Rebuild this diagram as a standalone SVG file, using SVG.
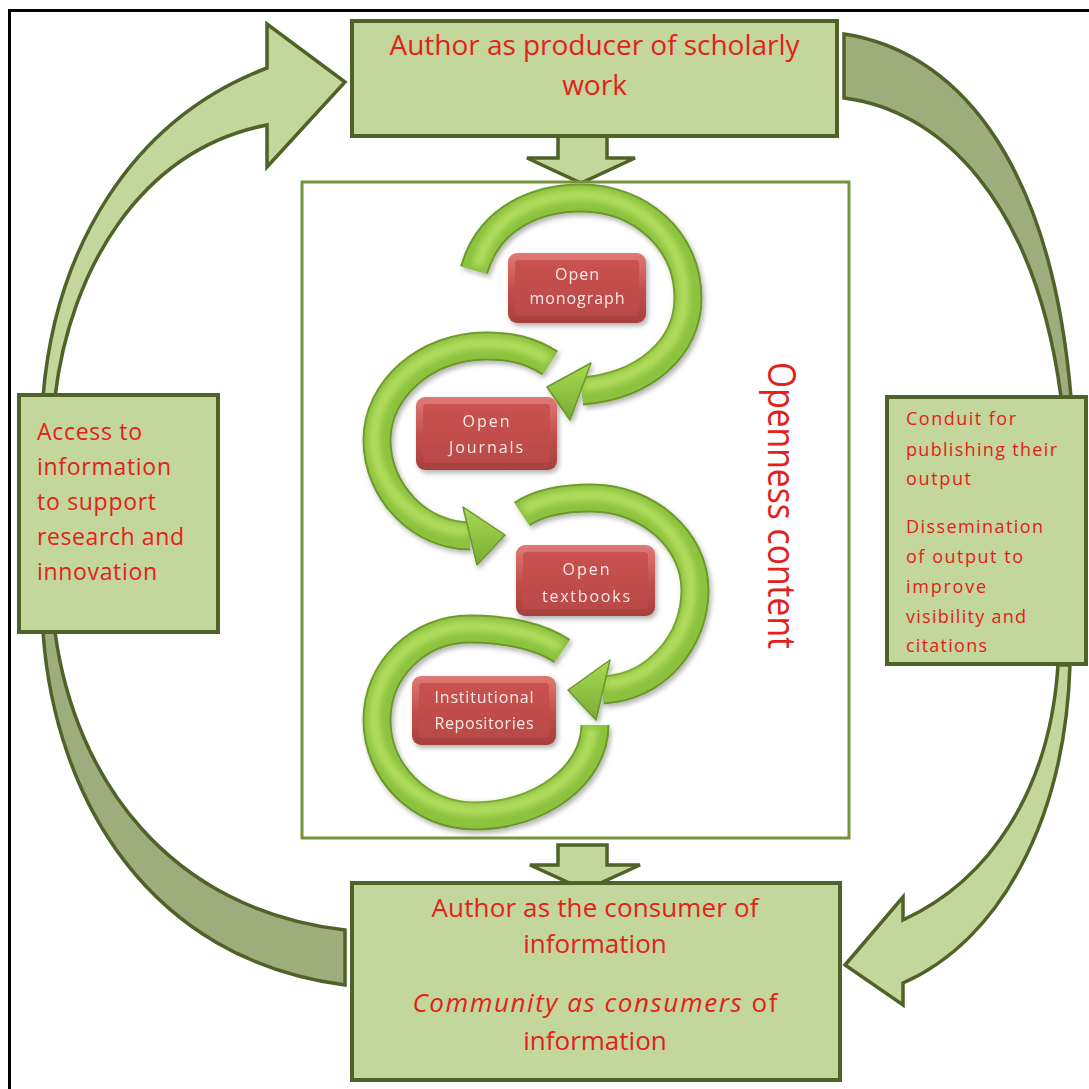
<svg xmlns="http://www.w3.org/2000/svg" width="1089" height="1089" viewBox="0 0 1089 1089">
  <defs>
    <style>
      .box { fill: #c3d69b; stroke: #4f6228; stroke-width: 4; }
      .frame { fill: #ffffff; stroke: #76923c; stroke-width: 3; }
      .big-light { fill: #c3d69b; stroke: #4f6228; stroke-width: 3.5; stroke-linejoin: miter; }
      .big-dark { fill: #9dad7b; stroke: #4f6228; stroke-width: 3.5; }
      .down { fill: #c3d69b; stroke: #4f6228; stroke-width: 3.5; }
      .lbl { fill: #e3211c; font-family: "Open Sans", "Liberation Sans", sans-serif; }
      .ring-edge { fill: none; stroke: #6c982a; stroke-width: 29; }
      .ring-body { fill: none; stroke: #8cc23e; stroke-width: 25; }
      .ring-hi { fill: none; stroke: #b2dd5e; stroke-width: 11; filter: url(#soft); }
      .head { fill: url(#headGrad); stroke: #6c982a; stroke-width: 1.5; stroke-linejoin: round; }
      .rb-out { fill: url(#redOut); }
      .rb-in { fill: url(#redIn); }
      .rb-txt { fill: #fbe9e7; font-family: "Open Sans", "Liberation Sans", sans-serif; font-size: 16px; text-anchor: middle; }
    </style>
    <filter id="soft" x="-20%" y="-20%" width="140%" height="140%">
      <feGaussianBlur stdDeviation="3"/>
    </filter>
    <filter id="shadow" x="-20%" y="-20%" width="140%" height="140%">
      <feDropShadow dx="2" dy="3" stdDeviation="2.5" flood-color="#000" flood-opacity="0.3"/>
    </filter>
    <linearGradient id="headGrad" x1="0" y1="0" x2="0" y2="1">
      <stop offset="0" stop-color="#a9d955"/>
      <stop offset="1" stop-color="#79ad31"/>
    </linearGradient>
    <linearGradient id="redOut" x1="0" y1="0" x2="0" y2="1">
      <stop offset="0" stop-color="#e07a76"/>
      <stop offset="0.5" stop-color="#c4504d"/>
      <stop offset="1" stop-color="#a7403d"/>
    </linearGradient>
    <linearGradient id="redIn" x1="0" y1="0" x2="0" y2="1">
      <stop offset="0" stop-color="#c9524f"/>
      <stop offset="1" stop-color="#b94a47"/>
    </linearGradient>
  </defs>

  <rect width="1089" height="1089" fill="#ffffff"/>
  <path d="M9.5,1089 V10.5 H1089" fill="none" stroke="#000" stroke-width="3"/>

  <g id="connectors">
    <!-- left arc, rising into the producer box -->
    <path class="big-light" d="M43,397 C55,250 130,120 267,68 L267,24 L345,82 L267,167 L267,125 C140,150 70,270 55,397 Z"/>
    <!-- right arc, from producer box down to the conduit box -->
    <path class="big-dark" d="M844,34 C950,50 1050,150 1071,397 L1061,397 C1035,200 940,110 844,98 Z"/>
    <!-- right arc, from conduit box into the consumer box -->
    <path class="big-light" d="M1070,665 C1065,820 1000,940 903,983 L903,1005 L845,965 L903,897 L903,920 C990,880 1050,790 1058,665 Z"/>
    <!-- left arc, from consumer box up to the access box -->
    <path class="big-dark" d="M43,632 C55,800 150,960 345,985 L345,930 C170,910 75,780 55,632 Z"/>
    <!-- short block arrows -->
    <path class="down" d="M558,136 V158 H527 L581,183 L635,158 H607 V136 Z"/>
    <path class="down" d="M558,845 V865 H530 L585,890 L640,865 H607 V845 Z"/>
  </g>

  <g id="node-openness">
    <rect class="frame" x="302" y="182" width="547" height="656"/>
    <g id="cycle" filter="url(#shadow)">
      <!-- ring around Institutional Repositories -->
      <g id="ring-d">
        <path class="ring-edge" d="M562,651 C540,636 505,629 470,629 C418,629 377,670 377,720 C377,772 420,816 475,816 C540,816 595,775 595,725"/>
        <path class="ring-body" d="M562,651 C540,636 505,629 470,629 C418,629 377,670 377,720 C377,772 420,816 475,816 C540,816 595,775 595,725"/>
        <path class="ring-hi" d="M560,648 C540,634 505,626 470,626 C418,626 374,668 374,718 C374,768 420,810 475,810 C540,810 590,772 592,728"/>
      </g>
      <!-- ring around Open textbooks -->
      <g id="ring-c">
        <path class="ring-edge" d="M522,514 C540,502 565,498 591,498 C648,498 695,540 695,590 C695,642 655,688 603,690"/>
        <path class="ring-body" d="M522,514 C540,502 565,498 591,498 C648,498 695,540 695,590 C695,642 655,688 603,690"/>
        <path class="ring-hi" d="M524,510 C540,499 565,495 591,495 C646,495 691,538 691,588 C691,636 655,680 605,684"/>
        <polygon class="head" points="568,690 610,660 596,720"/>
      </g>
      <!-- ring around Open Journals -->
      <g id="ring-b">
        <path class="ring-edge" d="M550,363 C530,350 510,346 486,346 C425,346 377,390 377,440 C377,492 420,536 470,536"/>
        <path class="ring-body" d="M550,363 C530,350 510,346 486,346 C425,346 377,390 377,440 C377,492 420,536 470,536"/>
        <path class="ring-hi" d="M548,360 C530,347 510,343 486,343 C425,343 374,388 374,438 C374,488 418,530 468,531"/>
        <polygon class="head" points="505,535 463,507 477,565"/>
      </g>
      <!-- ring around Open monograph -->
      <g id="ring-a">
        <path class="ring-edge" d="M474,270 C490,215 540,198 581,198 C640,198 688,240 688,298 C688,348 645,386 582,391"/>
        <path class="ring-body" d="M474,270 C490,215 540,198 581,198 C640,198 688,240 688,298 C688,348 645,386 582,391"/>
        <path class="ring-hi" d="M478,266 C492,212 540,195 581,195 C638,195 684,238 684,296 C684,344 643,380 584,386"/>
        <polygon class="head" points="547,387 591,363 570,420"/>
      </g>
    </g>

    <g id="node-monograph" filter="url(#shadow)">
      <rect class="rb-out" x="508" y="253" width="138" height="70" rx="9"/>
      <rect class="rb-in" x="515" y="260" width="124" height="56" rx="4"/>
      <text class="rb-txt" x="577" y="280" textLength="44">Open</text>
      <text class="rb-txt" x="577" y="304" textLength="95">monograph</text>
    </g>
    <g id="node-journals" filter="url(#shadow)">
      <rect class="rb-out" x="416" y="397" width="141" height="73" rx="9"/>
      <rect class="rb-in" x="423" y="404" width="127" height="59" rx="4"/>
      <text class="rb-txt" x="486" y="427" textLength="47">Open</text>
      <text class="rb-txt" x="486" y="453" textLength="74">Journals</text>
    </g>
    <g id="node-textbooks" filter="url(#shadow)">
      <rect class="rb-out" x="516" y="545" width="139" height="71" rx="9"/>
      <rect class="rb-in" x="523" y="552" width="125" height="57" rx="4"/>
      <text class="rb-txt" x="586" y="575" textLength="47">Open</text>
      <text class="rb-txt" x="586" y="602" textLength="88">textbooks</text>
    </g>
    <g id="node-repositories" filter="url(#shadow)">
      <rect class="rb-out" x="412" y="676" width="144" height="69" rx="9"/>
      <rect class="rb-in" x="419" y="683" width="130" height="55" rx="4"/>
      <text class="rb-txt" x="484" y="703" textLength="99">Institutional</text>
      <text class="rb-txt" x="484" y="729" textLength="99">Repositories</text>
    </g>

    <text class="lbl" transform="translate(768,362) rotate(90)" font-size="39" textLength="287" lengthAdjust="spacingAndGlyphs">Openness content</text>
  </g>

  <g id="node-producer">
    <rect class="box" x="352" y="21" width="485" height="115"/>
    <text class="lbl" x="594.5" y="55" font-size="28" text-anchor="middle" textLength="410">Author as producer of scholarly</text>
    <text class="lbl" x="594.5" y="95" font-size="28" text-anchor="middle">work</text>
  </g>

  <g id="node-access">
    <rect class="box" x="19" y="395" width="199" height="237"/>
    <g class="lbl" font-size="23">
      <text x="37" y="440" textLength="105">Access to</text>
      <text x="37" y="475" textLength="134">information</text>
      <text x="37" y="510" textLength="119">to support</text>
      <text x="37" y="545" textLength="147">research and</text>
      <text x="37" y="580" textLength="120">innovation</text>
    </g>
  </g>

  <g id="node-conduit">
    <rect class="box" x="887" y="397" width="199" height="267"/>
    <g class="lbl" font-size="18">
      <text x="906" y="425" textLength="110">Conduit for</text>
      <text x="906" y="456" textLength="151">publishing their</text>
      <text x="906" y="485" textLength="65">output</text>
      <text x="906" y="533" textLength="137">Dissemination</text>
      <text x="906" y="563" textLength="117">of output to</text>
      <text x="906" y="593" textLength="80">improve</text>
      <text x="906" y="623" textLength="120">visibility and</text>
      <text x="906" y="652" textLength="81">citations</text>
    </g>
  </g>

  <g id="node-consumer">
    <rect class="box" x="352" y="883" width="488" height="197"/>
    <g class="lbl" font-size="26" text-anchor="middle">
      <text x="595" y="917" textLength="327">Author as the consumer of</text>
      <text x="595" y="953">information</text>
      <text x="595" y="1012" textLength="365"><tspan font-style="italic">Community as consumers</tspan> of</text>
      <text x="595" y="1050">information</text>
    </g>
  </g>
</svg>
